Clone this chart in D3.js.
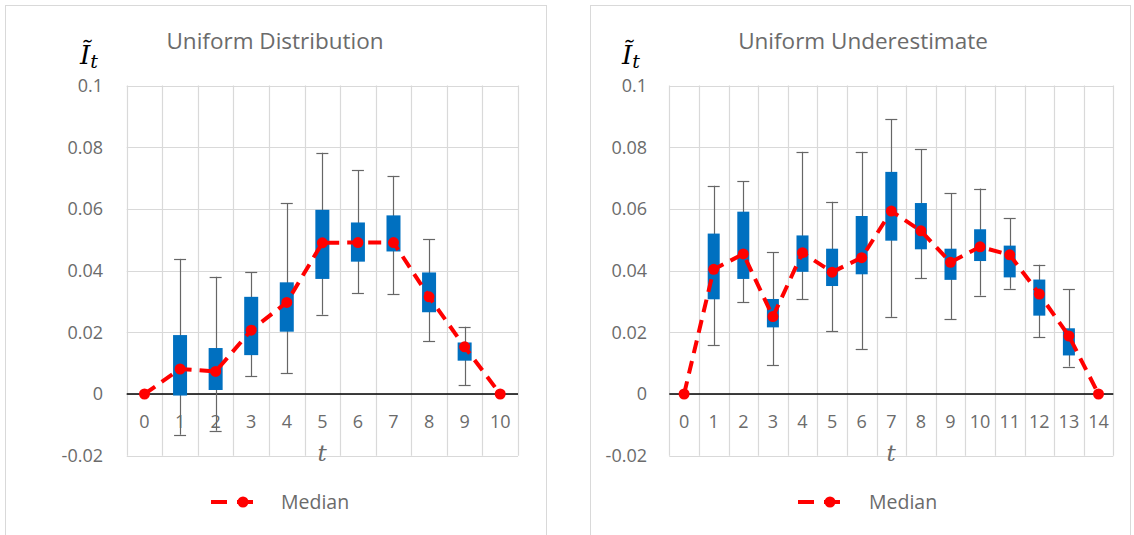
<!DOCTYPE html>
<html>
<head>
<meta charset="utf-8">
<script src="https://cdn.jsdelivr.net/npm/d3@7"></script>
<style>
  html, body { margin: 0; padding: 0; background: #fff; }
  svg { display: block; }
</style>
</head>
<body>
<svg id="chart" width="1134" height="535"></svg>
<script>
// ---------- data ----------
const titleA = "Uniform Distribution";
const catsA = ["0","1","2","3","4","5","6","7","8","9","10"];
const medianA = [0, 0.0081, 0.0073, 0.0207, 0.0297, 0.0490, 0.0491, 0.0491, 0.0315, 0.0153, 0];
const q1A     = [null, -0.0005, 0.0013, 0.0126, 0.0202, 0.0373, 0.0429, 0.0462, 0.0265, 0.0108, null];
const q3A     = [null, 0.0191, 0.0149, 0.0315, 0.0362, 0.0597, 0.0556, 0.0579, 0.0394, 0.0167, null];
const minA    = [null, -0.0132, -0.0119, 0.0057, 0.0067, 0.0257, 0.0327, 0.0323, 0.0171, 0.0029, null];
const maxA    = [null, 0.0438, 0.0380, 0.0394, 0.0618, 0.0782, 0.0725, 0.0707, 0.0502, 0.0218, null];

const titleB = "Uniform Underestimate";
const catsB = ["0","1","2","3","4","5","6","7","8","9","10","11","12","13","14"];
const medianB = [0, 0.0404, 0.0454, 0.0251, 0.0458, 0.0395, 0.0442, 0.0593, 0.0529, 0.0427, 0.0477, 0.0451, 0.0324, 0.0188, 0];
const q1B     = [null, 0.0307, 0.0373, 0.0216, 0.0396, 0.0350, 0.0388, 0.0497, 0.0469, 0.0370, 0.0431, 0.0378, 0.0254, 0.0125, null];
const q3B     = [null, 0.0520, 0.0591, 0.0308, 0.0514, 0.0471, 0.0577, 0.0720, 0.0619, 0.0471, 0.0534, 0.0481, 0.0371, 0.0213, null];
const minB    = [null, 0.0159, 0.0298, 0.0093, 0.0308, 0.0203, 0.0146, 0.0250, 0.0375, 0.0242, 0.0319, 0.0341, 0.0184, 0.0089, null];
const maxB    = [null, 0.0675, 0.0690, 0.0460, 0.0785, 0.0623, 0.0785, 0.0890, 0.0794, 0.0650, 0.0666, 0.0570, 0.0419, 0.0340, null];

const yTicks = [-0.02, 0, 0.02, 0.04, 0.06, 0.08, 0.1];
const yTickLabels = ["-0.02", "0", "0.02", "0.04", "0.06", "0.08", "0.1"];
const legendLabel = "Median";
const xTitle = "t";

// ---------- layout ----------
const panels = [
  { title: titleA, cats: catsA, med: medianA, q1: q1A, q3: q3A, lo: minA, hi: maxA,
    frame: [5, 5, 541, 540], plotX: [126.7, 518], yLabX: 103, boxW: 14, capW: 12,
    titleX: 275, yTitleX: 80, xTitleX: 322, legX: 211, legTextX: 281 },
  { title: titleB, cats: catsB, med: medianB, q1: q1B, q3: q3B, lo: minB, hi: maxB,
    frame: [590, 5, 540, 540], plotX: [669.3, 1113.3], yLabX: 647, boxW: 12, capW: 12,
    titleX: 863, yTitleX: 622, xTitleX: 891, legX: 798, legTextX: 869 }
];

const plotY = [455.7, 85.5];
const gridColor = "#D9D9D9";
const textColor = "#6b6b6b";
const boxColor = "#0070C0";
const medColor = "#FF0000";
const whiskerColor = "#666666";
const font = "'Open Sans', 'Noto Sans', sans-serif";

const svg = d3.select("#chart");

panels.forEach(p => {
  const g = svg.append("g");
  const [fx, fy, fw, fh] = p.frame;
  g.append("rect").attr("x", fx + 0.5).attr("y", fy + 0.5).attr("width", fw).attr("height", fh)
    .attr("fill", "#fff").attr("stroke", gridColor).attr("stroke-width", 1);

  const x = d3.scaleBand().domain(p.cats).range(p.plotX).padding(0);
  const y = d3.scaleLinear().domain([-0.02, 0.1]).range(plotY);

  // horizontal gridlines
  g.append("g").selectAll("line").data(yTicks).join("line")
    .attr("x1", p.plotX[0]).attr("x2", p.plotX[1])
    .attr("y1", d => Math.round(y(d)) + 0.5).attr("y2", d => Math.round(y(d)) + 0.5)
    .attr("stroke", gridColor).attr("stroke-width", 1.2);

  // vertical gridlines at band boundaries
  const bounds = p.cats.map(c => x(c)).concat([p.plotX[1]]);
  g.append("g").selectAll("line").data(bounds).join("line")
    .attr("x1", d => Math.round(d) + 0.5).attr("x2", d => Math.round(d) + 0.5)
    .attr("y1", y(0.1)).attr("y2", y(-0.02))
    .attr("stroke", gridColor).attr("stroke-width", 1.2);

  // zero line
  g.append("line").attr("x1", p.plotX[0]).attr("x2", p.plotX[1])
    .attr("y1", y(0)).attr("y2", y(0)).attr("stroke", "#000").attr("stroke-width", 1.5);

  // y tick labels
  g.append("g").selectAll("text").data(yTicks).join("text")
    .attr("x", p.yLabX).attr("y", d => y(d)).attr("dy", "0.36em")
    .attr("text-anchor", "end").attr("font-family", font).attr("font-size", 18)
    .attr("fill", textColor).text((d, i) => yTickLabels[i]);

  // x tick labels
  g.append("g").selectAll("text").data(p.cats).join("text")
    .attr("x", d => x(d) + x.bandwidth() / 2).attr("y", 422).attr("dy", "0.36em")
    .attr("text-anchor", "middle").attr("font-family", font).attr("font-size", 18)
    .attr("fill", textColor).text(d => d);

  const cx = c => x(c) + x.bandwidth() / 2;
  const idx = p.cats.map((c, i) => i).filter(i => p.q1[i] !== null);

  // whiskers
  const wg = g.append("g").attr("stroke", whiskerColor).attr("stroke-width", 1.2);
  wg.selectAll("line.w").data(idx).join("line").attr("class", "w")
    .attr("x1", i => Math.round(cx(p.cats[i])) + 0.5).attr("x2", i => Math.round(cx(p.cats[i])) + 0.5)
    .attr("y1", i => y(p.hi[i])).attr("y2", i => y(p.lo[i]));
  wg.selectAll("line.ct").data(idx).join("line").attr("class", "ct")
    .attr("x1", i => cx(p.cats[i]) - p.capW / 2).attr("x2", i => cx(p.cats[i]) + p.capW / 2)
    .attr("y1", i => Math.round(y(p.hi[i])) + 0.5).attr("y2", i => Math.round(y(p.hi[i])) + 0.5);
  wg.selectAll("line.cb").data(idx).join("line").attr("class", "cb")
    .attr("x1", i => cx(p.cats[i]) - p.capW / 2).attr("x2", i => cx(p.cats[i]) + p.capW / 2)
    .attr("y1", i => Math.round(y(p.lo[i])) + 0.5).attr("y2", i => Math.round(y(p.lo[i])) + 0.5);

  // boxes
  g.append("g").selectAll("rect").data(idx).join("rect")
    .attr("x", i => cx(p.cats[i]) - p.boxW / 2).attr("width", p.boxW)
    .attr("y", i => y(p.q3[i])).attr("height", i => y(p.q1[i]) - y(p.q3[i]))
    .attr("fill", boxColor);

  // median line
  const line = d3.line().x((d, i) => cx(p.cats[i])).y(d => y(d));
  g.append("path").datum(p.med).attr("d", line)
    .attr("fill", "none").attr("stroke", medColor).attr("stroke-width", 4)
    .attr("stroke-dasharray", "13,8").attr("stroke-linecap", "butt");
  g.append("g").selectAll("circle").data(p.med).join("circle")
    .attr("cx", (d, i) => cx(p.cats[i])).attr("cy", d => y(d)).attr("r", 5.5)
    .attr("fill", medColor);

  // title
  g.append("text").attr("x", p.titleX).attr("y", 41).attr("dy", "0.36em")
    .attr("text-anchor", "middle").attr("font-family", font).attr("font-size", 22.5)
    .attr("fill", textColor).text(p.title);

  // y axis title: I with tilde, subscript t
  const yt = g.append("text").attr("x", p.yTitleX).attr("y", 64)
    .attr("font-family", "'DejaVu Serif', 'Liberation Serif', serif").attr("font-style", "italic")
    .attr("fill", "#000");
  yt.append("tspan").attr("font-size", 26).text("\u0128");
  yt.append("tspan").attr("font-size", 19).attr("dy", 4).text("t");

  // x axis title
  g.append("text").attr("x", p.xTitleX).attr("y", 461)
    .attr("text-anchor", "middle").attr("font-family", "'DejaVu Serif', 'Liberation Serif', serif")
    .attr("font-style", "italic").attr("font-size", 23).attr("fill", textColor).text(xTitle);

  // legend
  const ly = 502;
  const lg = g.append("g");
  lg.append("line").attr("x1", p.legX).attr("x2", p.legX + 48).attr("y1", ly).attr("y2", ly)
    .attr("stroke", medColor).attr("stroke-width", 4).attr("stroke-dasharray", "16,10");
  lg.append("circle").attr("cx", p.legX + 32).attr("cy", ly).attr("r", 5.5).attr("fill", medColor);
  lg.append("text").attr("x", p.legTextX).attr("y", ly).attr("dy", "0.36em")
    .attr("font-family", font).attr("font-size", 19.5).attr("fill", textColor).text(legendLabel);
});
</script>
</body>
</html>
